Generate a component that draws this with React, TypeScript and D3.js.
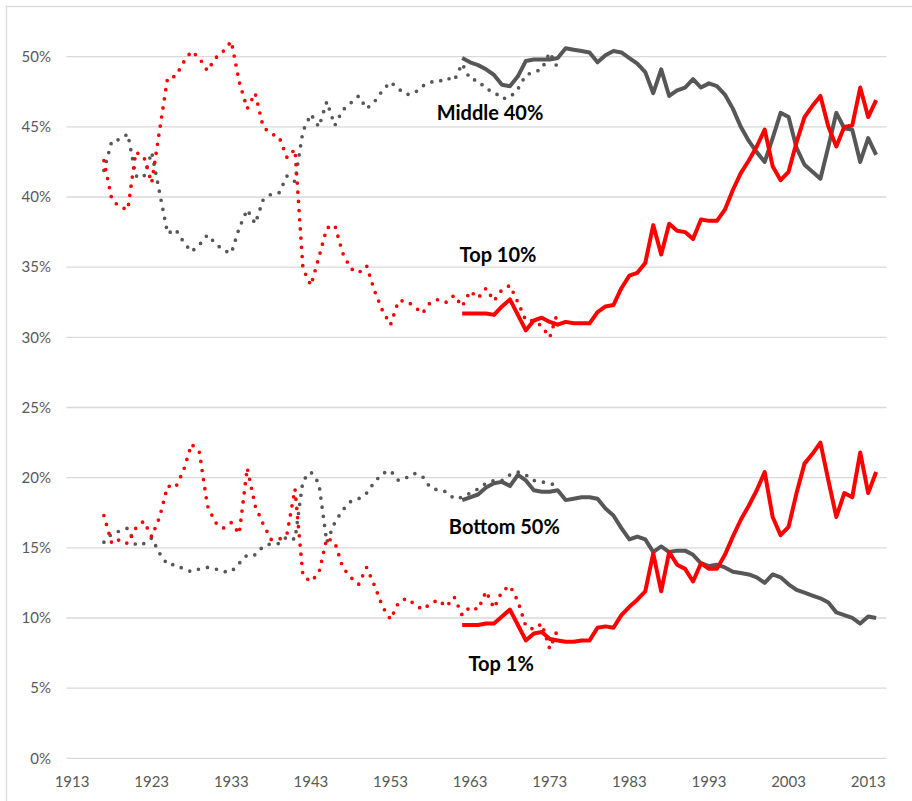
import React from "react";
import * as d3 from "d3";

// fiscal-income series (dotted), 1917-1974
const fiscalYears = d3.range(1917, 1975);
const top10Fiscal = [
  42.6, 39.8, 39.3, 39.1, 43.2, 42.9, 41.0, 44.8, 48.5, 48.6,
  49.6, 50.4, 49.9, 49.0, 49.9, 50.4, 51.1, 48.2, 46.3, 47.4,
  45.0, 44.5, 44.3, 42.8, 43.4, 34.9, 33.7, 35.7, 37.8, 38.0,
  36.0, 34.9, 34.6, 35.1, 33.3, 31.9, 30.9, 32.6, 32.6, 32.2,
  31.7, 32.5, 32.7, 32.5, 33.0, 32.2, 33.3, 32.8, 33.5, 32.6,
  33.4, 33.7, 32.5, 31.2, 31.2, 30.8, 30.0, 31.8,
];
const middle40Fiscal = [
  41.9, 44.0, 44.1, 44.5, 41.5, 41.4, 43.2, 40.3, 37.4, 37.7,
  36.8, 36.1, 36.6, 37.3, 36.7, 36.2, 36.0, 37.8, 39.1, 38.1,
  39.8, 40.2, 40.3, 41.5, 41.1, 44.7, 45.9, 45.0, 46.8, 45.1,
  46.2, 46.7, 47.2, 46.3, 46.8, 47.6, 48.2, 47.7, 47.3, 47.4,
  47.9, 48.2, 48.2, 48.5, 48.3, 49.5, 48.4, 48.3, 47.7, 47.5,
  47.0, 47.1, 47.7, 48.7, 48.9, 49.1, 50.3, 49.2,
];
const top1Fiscal = [
  17.3, 15.3, 15.6, 15.3, 16.4, 16.9, 15.8, 17.2, 19.4, 19.3,
  20.5, 22.4, 21.8, 18.0, 16.8, 16.4, 16.8, 16.0, 20.7, 18.0,
  16.7, 15.6, 15.6, 16.0, 19.2, 13.0, 12.6, 13.2, 15.7, 15.4,
  13.6, 12.9, 12.4, 13.6, 12.3, 10.8, 9.9, 11.1, 11.4, 11.0,
  10.6, 11.0, 11.3, 10.8, 11.5, 10.2, 10.8, 10.6, 11.9, 10.7,
  11.9, 12.3, 11.2, 9.4, 9.2, 9.6, 7.8, 9.2,
];
const bottom50Fiscal = [
  15.4, 16.0, 16.2, 16.4, 15.2, 15.3, 15.7, 14.6, 13.8, 13.8,
  13.5, 13.3, 13.5, 13.6, 13.5, 13.3, 13.3, 13.9, 14.5, 14.5,
  15.1, 15.3, 15.3, 15.8, 15.6, 19.8, 20.4, 19.6, 15.4, 16.8,
  17.7, 18.3, 18.5, 18.9, 19.7, 20.3, 20.5, 19.8, 20.0, 20.3,
  20.1, 19.3, 19.1, 19.0, 18.5, 18.6, 18.9, 19.2, 19.6, 19.8,
  19.8, 20.2, 20.4, 20.2, 19.8, 19.7, 19.6, 19.4,
];

// national-income series (solid), 1962-2014
const nationalYears = d3.range(1962, 2015);
const top10National = [
  31.7, 31.7, 31.7, 31.7, 31.6, 32.2, 32.7, 31.6, 30.5, 31.2,
  31.4, 31.1, 30.9, 31.1, 31.0, 31.0, 31.0, 31.8, 32.2, 32.3,
  33.5, 34.4, 34.6, 35.3, 38.0, 35.9, 38.1, 37.6, 37.5, 37.0,
  38.4, 38.3, 38.3, 39.1, 40.5, 41.7, 42.6, 43.6, 44.8, 42.2,
  41.2, 41.8, 43.9, 45.7, 46.5, 47.2, 45.0, 43.6, 45.0, 45.1,
  47.8, 45.7, 46.9,
];
const middle40National = [
  49.9, 49.6, 49.4, 49.1, 48.7, 48.0, 47.9, 48.6, 49.7, 49.8,
  49.8, 49.8, 49.9, 50.6, 50.5, 50.4, 50.3, 49.6, 50.1, 50.4,
  50.3, 49.9, 49.5, 48.9, 47.4, 49.1, 47.2, 47.6, 47.8, 48.4,
  47.8, 48.1, 47.9, 47.3, 46.3, 45.0, 44.0, 43.2, 42.5, 44.2,
  46.0, 45.7, 43.5, 42.3, 41.8, 41.3, 43.6, 46.0, 44.9, 44.8,
  42.5, 44.2, 43.0,
];
const bottom50National = [
  18.4, 18.6, 18.8, 19.3, 19.6, 19.7, 19.4, 20.2, 19.8, 19.1,
  19.0, 19.0, 19.1, 18.4, 18.5, 18.6, 18.6, 18.5, 17.8, 17.3,
  16.4, 15.6, 15.8, 15.6, 14.7, 15.1, 14.7, 14.8, 14.8, 14.5,
  13.9, 13.7, 13.8, 13.6, 13.3, 13.2, 13.1, 12.9, 12.5, 13.1,
  12.9, 12.4, 12.0, 11.8, 11.6, 11.4, 11.1, 10.4, 10.2, 10.0,
  9.6, 10.1, 10.0,
];
const top1National = [
  9.5, 9.5, 9.5, 9.6, 9.6, 10.1, 10.6, 9.5, 8.4, 8.9,
  9.0, 8.5, 8.4, 8.3, 8.3, 8.4, 8.4, 9.3, 9.4, 9.3,
  10.2, 10.8, 11.3, 11.9, 14.6, 11.9, 14.7, 13.8, 13.5, 12.6,
  13.9, 13.5, 13.5, 14.5, 15.8, 17.0, 18.0, 19.1, 20.4, 17.2,
  15.9, 16.5, 18.9, 21.0, 21.7, 22.5, 19.8, 17.2, 18.9, 18.6,
  21.8, 18.9, 20.4,
];

const xTickYears = [1913, 1923, 1933, 1943, 1953, 1963, 1973, 1983, 1993, 2003, 2013];
const yTicks = [0, 5, 10, 15, 20, 25, 30, 35, 40, 45, 50];

const seriesLabels = [
  { text: "Middle 40%", year: 1965.5, value: 45.5 },
  { text: "Top 10%", year: 1966.5, value: 35.4 },
  { text: "Bottom 50%", year: 1967.3, value: 16.0 },
  { text: "Top 1%", year: 1966.9, value: 6.2 },
];

const RED = "#ff0000";
const GREY = "#575757";

const W = 912;
const H = 801;

const App: React.FC = () => {
  const x = d3.scaleLinear().domain([1912.3, 2015.3]).range([66.5, 886.5]);
  const y = d3.scaleLinear().domain([0, 50]).range([758.3, 56.7]);

  const line = (years: number[], vals: number[]) =>
    d3
      .line<number>()
      .x((_, i) => x(years[i]))
      .y(d => y(d))(vals) as string;

  const dotted = [
    { vals: middle40Fiscal, color: GREY },
    { vals: bottom50Fiscal, color: GREY },
    { vals: top10Fiscal, color: RED },
    { vals: top1Fiscal, color: RED },
  ];
  const solid = [
    { vals: middle40National, color: GREY },
    { vals: bottom50National, color: GREY },
    { vals: top10National, color: RED },
    { vals: top1National, color: RED },
  ];

  const font = "Lato, 'Open Sans', sans-serif";

  return (
    <svg
      width={W}
      height={H}
      style={{ position: "absolute", left: 0, top: 0, background: "#fff" }}
    >
      <rect x={6.5} y={6.5} width={W + 20} height={H + 20} fill="#fff" stroke="#d9d9d9" strokeWidth={1.3} />

      {/* gridlines + y labels */}
      {yTicks.map(t => (
        <g key={t}>
          <line x1={x.range()[0]} x2={x.range()[1]} y1={y(t)} y2={y(t)} stroke="#d9d9d9" strokeWidth={1.3} />
          <text
            x={51}
            y={y(t)}
            dy="0.35em"
            textAnchor="end"
            fontFamily={font}
            fontSize={15}
            fill="#595959"
          >
            {t}%
          </text>
        </g>
      ))}

      {/* x labels */}
      {xTickYears.map(yr => (
        <text
          key={yr}
          x={x(yr)}
          y={787}
          textAnchor="middle"
          fontFamily={font}
          fontSize={15}
          fill="#595959"
        >
          {yr}
        </text>
      ))}

      {/* dotted fiscal-income lines */}
      {dotted.map((s, i) => (
        <path
          key={"d" + i}
          d={line(fiscalYears, s.vals)}
          fill="none"
          stroke={s.color}
          strokeWidth={3.7}
          strokeLinecap="round"
          strokeLinejoin="round"
          strokeDasharray="0 9.2"
        />
      ))}

      {/* solid national-income lines */}
      {solid.map((s, i) => (
        <path
          key={"s" + i}
          d={line(nationalYears, s.vals)}
          fill="none"
          stroke={s.color}
          strokeWidth={4}
          strokeLinejoin="round"
        />
      ))}

      {seriesLabels.map(l => (
        <text
          key={l.text}
          x={x(l.year)}
          y={y(l.value)}
          textAnchor="middle"
          fontFamily={font}
          fontWeight="bold"
          fontSize={20}
          fill="#000"
        >
          {l.text}
        </text>
      ))}
    </svg>
  );
};

export default App;
